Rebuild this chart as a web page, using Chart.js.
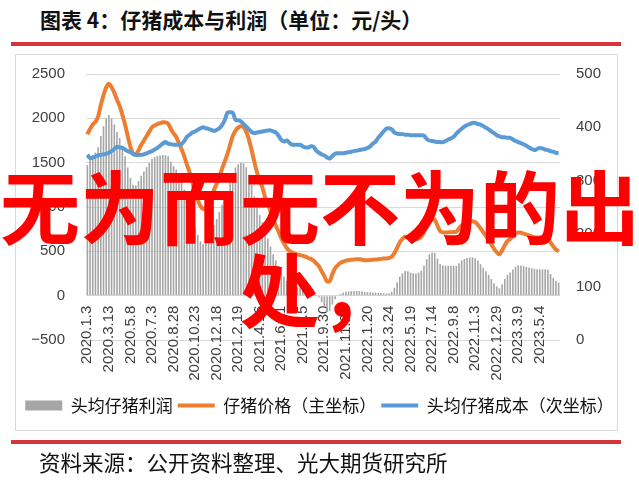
<!DOCTYPE html>
<html>
<head>
<meta charset="utf-8">
<script src="https://cdn.jsdelivr.net/npm/chart.js@4.4.0/dist/chart.umd.min.js"></script>
<style>
  html, body { margin: 0; padding: 0; background: #fff; }
  body { width: 639px; height: 482px; position: relative; overflow: hidden; font-family: "Noto Sans CJK SC", sans-serif; }
  .rule { position: absolute; left: 11px; width: 610px; height: 4px; background: #d5343a; }
  #title { position: absolute; left: 40px; top: 7px; font-size: 21px; line-height: 24px; font-weight: 700; color: #111; white-space: nowrap; }
  #frame { position: absolute; left: 15px; top: 54px; width: 603px; height: 377px; border: 1px solid #d9d9d9; box-sizing: border-box; }
  #source { position: absolute; left: 39px; top: 450px; font-size: 21.5px; line-height: 24px; color: #111; white-space: nowrap; }
  #chart { position: absolute; left: 0; top: 0; }
  #stamp { position: absolute; left: 0; top: 162px; width: 639px; text-align: center; font-size: 80px; line-height: 83px; font-weight: 700; color: #ff0000; white-space: nowrap; pointer-events: none; }
</style>
</head>
<body>
<div id="title">图表 4：仔猪成本与利润（单位：元/头）</div>
<div class="rule" style="top:42px"></div>
<div id="frame"></div>
<canvas id="chart" width="639" height="482" style="width:639px;height:482px"></canvas>
<div class="rule" style="top:440px"></div>
<div id="source">资料来源：公开资料整理、光大期货研究所</div>
<div id="stamp">无为而无不为的出<br>处，</div>

<script>
// Category tick labels, one every eight weekly observations
const tickLabels = ['2020.1.3', '2020.3.13', '2020.5.8', '2020.7.3', '2020.8.28', '2020.10.23',
  '2020.12.18', '2021.2.19', '2021.4.16', '2021.6.11', '2021.8.5', '2021.9.30', '2021.11.25',
  '2022.1.20', '2022.3.24', '2022.5.19', '2022.7.14', '2022.9.8', '2022.11.3', '2022.12.29',
  '2023.3.9', '2023.5.4'];
const labelStep = 8;

// 仔猪价格 (元/头, 主坐标)
const pigletPrice = [
  1820, 1880, 1930, 1960, 2020, 2150, 2260, 2350, 2390, 2350,
  2290, 2210, 2140, 2040, 1930, 1800, 1680, 1600, 1590, 1640,
  1700, 1750, 1800, 1850, 1900, 1920, 1935, 1945, 1955, 1955,
  1940, 1880, 1830, 1790, 1720, 1650, 1570, 1475, 1390, 1280,
  1165, 1080, 1010, 980, 990, 1040, 1110, 1190, 1260, 1340,
  1430, 1510, 1600, 1700, 1800, 1860, 1895, 1910, 1900, 1850,
  1760, 1640, 1510, 1390, 1300, 1220, 1110, 1040, 950, 860,
  790, 720, 650, 590, 540, 505, 490, 475, 465, 458,
  450, 440, 425, 415, 395, 365, 330, 275, 220, 160,
  165, 245, 310, 345, 370, 385, 395, 400, 405, 408,
  410, 410, 405, 400, 400, 402, 405, 408, 410, 415,
  418, 420, 425, 440, 480, 540, 600, 640, 665, 660,
  645, 638, 635, 645, 665, 720, 790, 840, 860, 855,
  790, 730, 713, 712, 714, 716, 718, 722, 760, 795,
  815, 828, 836, 840, 830, 800, 760, 715, 675, 630,
  580, 530, 490, 466, 510, 570, 615, 640, 672, 700,
  713, 710, 700, 690, 680, 668, 660, 657, 657, 657,
  657, 648, 600, 556, 520, 498
];

// 头均仔猪成本 (元/头, 次坐标)
const pigletCost = [
  348, 342, 343, 345, 347, 348, 349, 350, 352, 355,
  359, 363, 362, 361, 358, 355, 353, 350, 348, 348,
  348, 349, 351, 353, 355, 358, 361, 365, 369, 372,
  369, 368, 367, 367, 367, 368, 374, 382, 386, 390,
  392, 395, 398, 400, 398, 397, 395, 393, 395, 398,
  404, 413, 427, 428, 427, 414, 413, 411, 406, 401,
  396, 391, 389, 390, 391, 392, 393, 394, 394, 392,
  390, 384, 376, 373, 375, 371, 367, 367, 367, 367,
  364, 362, 362, 364, 363, 356, 352, 349, 347, 343,
  341, 346, 350, 351, 351, 351, 352, 353, 354, 355,
  356, 357, 358, 359, 361, 364, 369, 373, 380, 386,
  392, 397, 398, 396, 390, 388, 387, 387, 386, 386,
  385, 385, 385, 385, 385, 384, 378, 375, 374, 373,
  372, 372, 372, 374, 377, 379, 382, 388, 393, 397,
  401, 404, 406, 408, 408, 406, 405, 402, 399, 396,
  392, 389, 385, 383, 381, 381, 380, 380, 377, 374,
  372, 370, 368, 365, 362, 359, 357, 359, 361, 360,
  358, 357, 355, 354, 352, 351
];

// 头均仔猪利润 (元/头, 主坐标)
const pigletProfit = [
  1472, 1538, 1587, 1615, 1673, 1802, 1911, 2000, 2038, 1995,
  1931, 1847, 1778, 1679, 1572, 1445, 1327, 1250, 1242, 1292,
  1352, 1401, 1449, 1497, 1545, 1562, 1574, 1580, 1586, 1583,
  1571, 1512, 1463, 1423, 1353, 1282, 1196, 1093, 1004, 890,
  773, 685, 612, 580, 592, 643, 715, 797, 865, 942,
  1026, 1097, 1173, 1272, 1373, 1446, 1482, 1499, 1494, 1449,
  1364, 1249, 1121, 1000, 909, 828, 717, 646, 556, 468,
  400, 336, 274, 217, 165, 134, 123, 108, 98, 91,
  86, 78, 63, 51, 32, 9, -22, -74, -127, -183,
  -176, -101, -40, -6, 19, 34, 43, 47, 51, 53,
  54, 53, 47, 41, 39, 38, 36, 35, 30, 29,
  26, 23, 27, 44, 90, 152, 213, 253, 279, 274,
  260, 253, 250, 260, 280, 336, 412, 465, 486, 482,
  418, 358, 341, 338, 337, 337, 336, 334, 367, 398,
  414, 424, 430, 432, 422, 394, 355, 313, 276, 234,
  188, 141, 105, 83, 129, 189, 235, 260, 295, 326,
  341, 340, 332, 325, 318, 309, 303, 298, 296, 297,
  299, 291, 245, 202, 168, 147
];

const weeks = pigletPrice.map((_, i) => i);

const COLORS = { profit: '#a6a6a6', price: '#ed7d31', cost: '#5b9bd5', grid: '#d9d9d9', text: '#404040' };
const axisFont = { family: 'Liberation Sans, Arial, sans-serif', size: 15 };
const minus = v => (v < 0 ? '\u2212' + Math.abs(v) : String(v));

new Chart(document.getElementById('chart'), {
  type: 'bar',
  data: {
    labels: weeks,
    datasets: [
      {
        type: 'bar', label: '头均仔猪利润', data: pigletProfit, yAxisID: 'y',
        backgroundColor: COLORS.profit, barPercentage: 0.6, categoryPercentage: 1, order: 3
      },
      {
        type: 'line', label: '仔猪价格（主坐标）', data: pigletPrice, yAxisID: 'y',
        borderColor: COLORS.price, backgroundColor: COLORS.price, borderWidth: 4,
        pointRadius: 0, tension: 0.35, order: 2
      },
      {
        type: 'line', label: '头均仔猪成本（次坐标）', data: pigletCost, yAxisID: 'y1',
        borderColor: COLORS.cost, backgroundColor: COLORS.cost, borderWidth: 4,
        pointRadius: 0, tension: 0.35, order: 1
      }
    ]
  },
  options: {
    responsive: false,
    animation: false,
    devicePixelRatio: 1,
    layout: { padding: { top: 74, bottom: 58, left: 0, right: 0 } },
    scales: {
      x: {
        axis: 'x',
        position: { y: 0 },
        offset: true,
        grid: { display: false, drawTicks: false },
        border: { display: false },
        ticks: {
          autoSkip: false, minRotation: 90, maxRotation: 90, padding: 10,
          font: axisFont, color: COLORS.text,
          callback: (v, i) => (i % labelStep === 0 && tickLabels[i / labelStep]) ? tickLabels[i / labelStep] : ''
        }
      },
      y: {
        position: 'left', min: -500, max: 2500,
        grid: { color: COLORS.grid, lineWidth: 1, drawTicks: false },
        border: { display: false },
        ticks: { stepSize: 500, padding: 21, font: axisFont, color: COLORS.text, callback: minus },
        afterFit: s => { s.width = 86; }
      },
      y1: {
        position: 'right', min: 0, max: 500,
        grid: { display: false, drawTicks: false },
        border: { display: false },
        ticks: { stepSize: 100, padding: 16, font: axisFont, color: COLORS.text },
        afterFit: s => { s.width = 79; }
      }
    },
    plugins: {
      tooltip: { enabled: false },
      legend: {
        position: 'bottom',
        align: 'center',
        title: { display: true, text: '', font: { size: 10, lineHeight: 1 }, padding: { top: 42, bottom: 0 } },
        labels: {
          usePointStyle: true, pointStyleWidth: 37, boxHeight: 10, padding: 5,
          font: { family: 'Noto Sans CJK SC', size: 17 }, color: '#111',
          generateLabels: chart => chart.data.datasets.map((ds, i) => ({
            text: ds.label,
            datasetIndex: i,
            hidden: false,
            fillStyle: ds.type === 'bar' ? ds.backgroundColor : ds.borderColor,
            strokeStyle: ds.type === 'bar' ? ds.backgroundColor : ds.borderColor,
            lineWidth: ds.type === 'bar' ? 0 : 4,
            pointStyle: ds.type === 'bar' ? 'rect' : 'line',
            fontColor: '#111'
          }))
        }
      }
    }
  }
});
</script>
</body>
</html>
